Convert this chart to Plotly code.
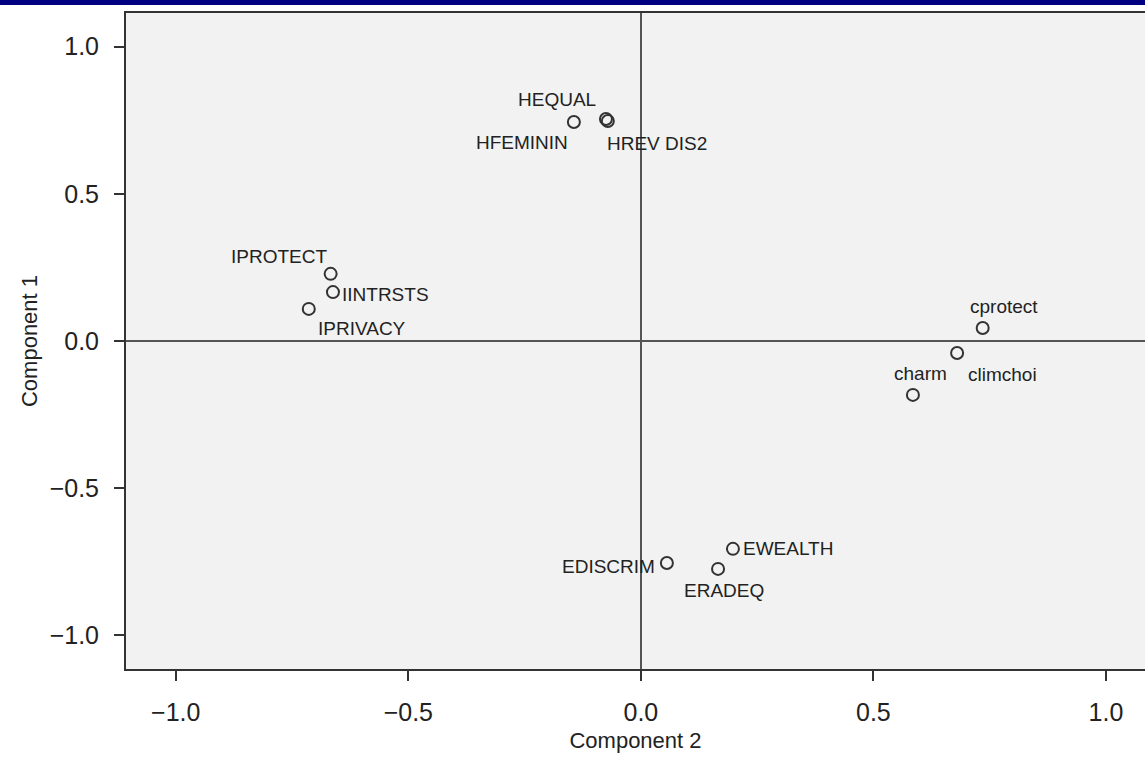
import plotly.graph_objects as go

# Loadings of each item on the two rotated components
labels = ["HEQUAL", "HFEMININ", "HREV DIS2", "IPROTECT", "IINTRSTS", "IPRIVACY",
          "cprotect", "climchoi", "charm", "EWEALTH", "EDISCRIM", "ERADEQ"]
comp2 = [-0.075, -0.144, -0.071, -0.667, -0.662, -0.714,
         0.735, 0.680, 0.585, 0.198, 0.056, 0.166]
comp1 = [0.754, 0.744, 0.747, 0.228, 0.166, 0.109,
         0.044, -0.041, -0.183, -0.706, -0.754, -0.774]

tick_vals = [-1.0, -0.5, 0.0, 0.5, 1.0]
tick_text = ["\u22121.0", "\u22120.5", "0.0", "0.5", "1.0"]

# Marker-label placement: (xanchor, xshift px, yshift px)
label_pos = {
    "HEQUAL": ("right", -8, 20),
    "HFEMININ": ("right", -4, -21),
    "HREV DIS2": ("left", -3, -22),
    "IPROTECT": ("right", -2, 17),
    "IINTRSTS": ("left", 7, -2),
    "IPRIVACY": ("left", 7, -20),
    "cprotect": ("center", 21, 22),
    "climchoi": ("left", 9, -21),
    "charm": ("center", 8, 21),
    "EWEALTH": ("left", 8, 0),
    "EDISCRIM": ("right", -10, -3),
    "ERADEQ": ("center", 6, -22),
}

TEXT = "#222222"
FONT = "Liberation Sans, Arial, Helvetica, sans-serif"

fig = go.Figure()
fig.add_trace(go.Scatter(
    x=comp2, y=comp1, mode="markers",
    marker=dict(symbol="circle-open", size=12, color="#333333",
                line=dict(width=2, color="#333333")),
    hoverinfo="text", text=labels, showlegend=False,
))

for name, xv, yv in zip(labels, comp2, comp1):
    anchor, dx, dy = label_pos[name]
    fig.add_annotation(x=xv, y=yv, text=name, showarrow=False,
                       xanchor=anchor, yanchor="middle", xshift=dx, yshift=dy,
                       font=dict(family=FONT, size=19, color=TEXT))

plot_w = 1145 - 126
plot_h = 759 - 13 - 90
# navy band along the top of the page
fig.add_shape(type="rect", xref="paper", yref="paper",
              x0=-126 / plot_w, x1=1.0, y0=1 + 8 / plot_h, y1=1 + 13 / plot_h + 0.01,
              fillcolor="#000080", line=dict(width=0), layer="above")

fig.update_layout(
    width=1145, height=759,
    margin=dict(l=126, r=0, t=13, b=90),
    paper_bgcolor="white", plot_bgcolor="#f2f2f2",
    font=dict(family=FONT, color=TEXT),
    xaxis=dict(
        range=[-1.107, 1.084], tickvals=tick_vals, ticktext=tick_text,
        ticks="outside", ticklen=10, tickwidth=2, tickcolor="#333333",
        ticklabelstandoff=10,
        showgrid=False, zeroline=True, zerolinecolor="#555555", zerolinewidth=2,
        showline=True, mirror=True, linecolor="#333333", linewidth=2,
        tickfont=dict(size=25, color=TEXT),
        title=dict(text="Component 2", font=dict(size=22, color=TEXT), standoff=8),
    ),
    yaxis=dict(
        range=[-1.114, 1.114], tickvals=tick_vals, ticktext=tick_text,
        ticks="outside", ticklen=10, tickwidth=2, tickcolor="#333333",
        ticklabelstandoff=10,
        showgrid=False, zeroline=True, zerolinecolor="#555555", zerolinewidth=2,
        showline=True, mirror=False, linecolor="#333333", linewidth=2,
        tickfont=dict(size=25, color=TEXT),
        title=dict(text="Component 1", font=dict(size=22, color=TEXT), standoff=6),
    ),
)

fig.write_html("out.html")
